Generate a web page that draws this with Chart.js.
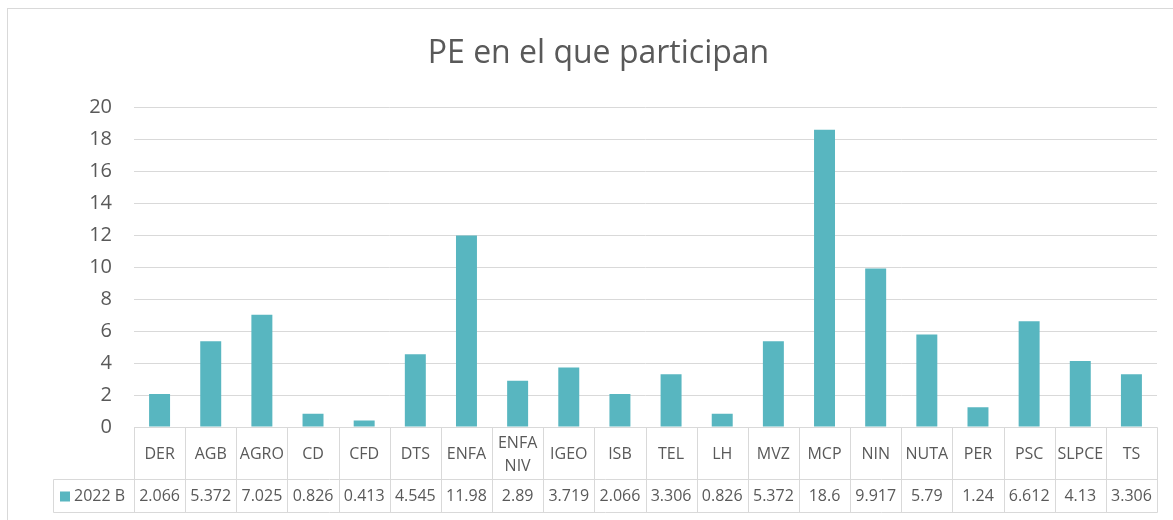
<!DOCTYPE html>
<html>
<head>
<meta charset="utf-8">
<script src="https://cdn.jsdelivr.net/npm/chart.js@4.4.1/dist/chart.umd.min.js"></script>
<style>
    html, body { margin: 0; padding: 0; background: #fff; }
    #wrap { width: 1173px; height: 520px; }
</style>
</head>
<body>
<div id="wrap"><canvas id="chart"></canvas></div>
<script>
const categories = ['DER', 'AGB', 'AGRO', 'CD', 'CFD', 'DTS', 'ENFA', 'ENFA NIV', 'IGEO', 'ISB',
    'TEL', 'LH', 'MVZ', 'MCP', 'NIN', 'NUTA', 'PER', 'PSC', 'SLPCE', 'TS'];
const values2022B = [2.066, 5.372, 7.025, 0.826, 0.413, 4.545, 11.98, 2.89, 3.719, 2.066,
    3.306, 0.826, 5.372, 18.6, 9.917, 5.79, 1.24, 6.612, 4.13, 3.306];
const seriesName = '2022 B';
const yMin = 0;
const yMax = 20;
const yStep = 2;

const barColor = '#58b6c0';
const lineColor = '#d9d9d9';
const textColor = '#595959';
const fontFamily = '"Open Sans", "Liberation Sans", sans-serif';

// outer frame like the Excel chart area
const framePlugin = {
    id: 'frame',
    beforeDraw(chart) {
        const ctx = chart.ctx;
        ctx.save();
        ctx.fillStyle = '#fff';
        ctx.fillRect(0, 0, chart.width, chart.height);
        ctx.strokeStyle = lineColor;
        ctx.lineWidth = 1;
        ctx.strokeRect(7.5, 8.5, chart.width + 40, chart.height + 40);
        ctx.restore();
    },
};

// data table under the plot, columns taken from the x scale
const dataTablePlugin = {
    id: 'dataTable',
    afterDraw(chart) {
        const {ctx, chartArea} = chart;
        const x = chart.scales.x;
        const n = categories.length;
        const half = (x.getPixelForValue(1) - x.getPixelForValue(0)) / 2;
        const top = Math.round(chartArea.bottom) + 0.5;
        const split = top + 52;
        const bottom = top + 85;
        const left = 53.5;
        const right = Math.round(x.getPixelForValue(n - 1) + half) + 0.5;

        const line = (x1, y1, x2, y2) => {
            ctx.beginPath();
            ctx.moveTo(x1, y1);
            ctx.lineTo(x2, y2);
            ctx.stroke();
        };

        ctx.save();
        ctx.strokeStyle = lineColor;
        ctx.lineWidth = 1;
        line(Math.round(chartArea.left) + 0.5, top, right, top);
        line(left, split, right, split);
        line(left, bottom, right, bottom);
        line(left, split, left, bottom);

        for (let i = 0; i <= n; i++) {
            const xb = Math.round(x.getPixelForValue(i) - half) + 0.5;
            line(xb, top, xb, bottom);
        }

        ctx.fillStyle = textColor;
        ctx.font = '16px ' + fontFamily;
        ctx.textAlign = 'center';
        ctx.textBaseline = 'middle';

        categories.forEach((label, i) => {
            const cx = x.getPixelForValue(i);
            const parts = label.split(' ');
            if (parts.length > 1) {
                ctx.fillText(parts[0], cx, top + 16);
                ctx.fillText(parts[1], cx, top + 39);
            } else {
                ctx.fillText(label, cx, top + 27);
            }
            ctx.fillText(String(values2022B[i]), cx, split + 17);
        });

        ctx.fillStyle = barColor;
        ctx.fillRect(60, split + 12, 10, 10);
        ctx.fillStyle = textColor;
        ctx.textAlign = 'left';
        ctx.fillText(seriesName, 74, split + 17);
        ctx.restore();
    },
};

new Chart(document.getElementById('chart'), {
    type: 'bar',
    data: {
        labels: categories,
        datasets: [
            {
                label: seriesName,
                data: values2022B,
                backgroundColor: barColor,
                borderWidth: 0,
                categoryPercentage: 1,
                barPercentage: 0.41,
            },
        ],
    },
    options: {
        responsive: true,
        maintainAspectRatio: false,
        animation: false,
        layout: {
            padding: {left: 40, right: 16, top: 0, bottom: 8},
        },
        scales: {
            x: {
                ticks: {display: false},
                grid: {display: false},
                border: {display: false},
                afterFit(scale) {
                    scale.height = 85;
                },
            },
            y: {
                min: yMin,
                max: yMax,
                ticks: {
                    stepSize: yStep,
                    padding: 22,
                    color: textColor,
                    font: {family: fontFamily, size: 20},
                },
                grid: {
                    color: lineColor,
                    lineWidth: 1,
                    drawTicks: false,
                },
                border: {display: false},
                afterFit(scale) {
                    scale.width = 94;
                },
            },
        },
        plugins: {
            legend: {display: false},
            tooltip: {enabled: false},
            title: {
                display: true,
                text: 'PE en el que participan',
                color: textColor,
                font: {family: fontFamily, size: 32, weight: 'normal'},
                padding: {top: 35, bottom: 34},
            },
        },
    },
    plugins: [framePlugin, dataTablePlugin],
});
</script>
</body>
</html>
